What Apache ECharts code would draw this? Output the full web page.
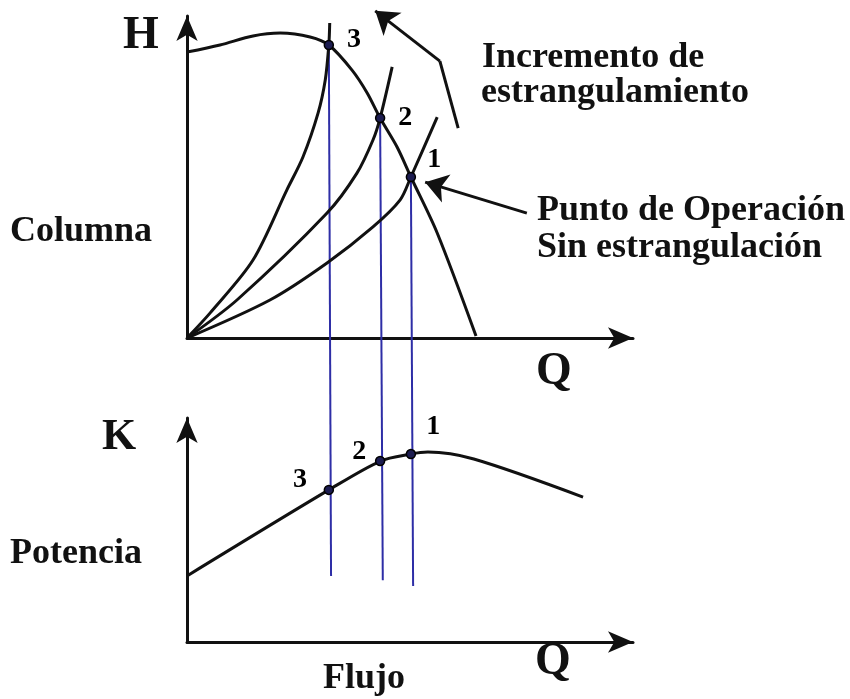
<!DOCTYPE html>
<html>
<head>
<meta charset="utf-8">
<title>Estrangulamiento</title>
<script src="https://cdn.jsdelivr.net/npm/echarts@6/dist/echarts.min.js"></script>
<style>
  html, body { margin: 0; padding: 0; background: #fff; }
  #chart { width: 850px; height: 699px; }
</style>
</head>
<body>
<div id="chart"></div>
<script>
// Pump head curve H(Q)
const pumpCurve = [
  [0, 88.8], [7.4, 91.0], [14.8, 93.8], [20.9, 94.7], [27.6, 93.5],
  [31.8, 91.0], [37.0, 83.2], [40.4, 76.1], [43.3, 68.3], [47.1, 59.3],
  [50.2, 50.0], [56.1, 32.6], [64.8, 0.6]
];
// System curves (1 = no throttling, 3 = most throttled)
const systemCurve1 = [[0, 0], [18.6, 11.8], [31.4, 23.3], [41.7, 34.5], [47.8, 42.9], [50.2, 50.0], [56.1, 68.6]];
const systemCurve2 = [[0, 0], [11.2, 11.8], [31.4, 38.8], [38.1, 51.2], [41.7, 61.5], [43.3, 68.3], [46.0, 84.2]];
const systemCurve3 = [[0, 0], [5.2, 7.8], [14.8, 24.2], [22.4, 46.0], [26.0, 56.2], [29.4, 69.9], [31.0, 80.1], [31.8, 91.0], [32.0, 97.8]];

// Operating points 1, 2, 3
const pointNames = ['1', '2', '3'];
const pointQ = [50.2, 43.3, 31.8];
const pointH = [50.0, 68.3, 91.0];
const pointK = [83.9, 80.8, 67.9];
// Lower end of the projection lines (in head units, below the Q axis)
const dropQ = [50.7, 43.9, 32.3];
const dropH = [-77.0, -75.2, -73.9];

// Power curve K(Q)
const powerCurve = [[0, 29.5], [31.8, 67.9], [43.4, 80.8], [50.2, 83.9], [54.0, 84.8], [64.3, 81.7], [88.8, 64.7]];

// Annotation arrows (head units of the upper panel); the last segment carries the head
const throttleArrow = [[60.8, 65.2], [56.7, 86.0], [42.2, 101.6]];
const operatingArrow = [[76.2, 38.8], [53.4, 48.4]];

const SERIF = "'Liberation Serif', 'DejaVu Serif', 'Times New Roman', serif";
const INK = '#111';
const BLUE = '#2e2ea6';
const MARK = 9;

const chart = echarts.init(document.getElementById('chart'), null, { renderer: 'canvas' });

function axis(gridIndex) {
  return {
    type: 'value', gridIndex: gridIndex, min: 0, max: 100,
    axisLine: { show: true, onZero: false, symbol: ['none', 'arrow'], symbolSize: [16, 25],
                lineStyle: { color: INK, width: 3 } },
    axisTick: { show: false }, axisLabel: { show: false }, splitLine: { show: false }
  };
}

function curve(name, data, xi, yi) {
  return {
    name: name, type: 'line', xAxisIndex: xi, yAxisIndex: yi, data: data,
    smooth: 0.3, showSymbol: false, symbol: 'none', clip: false, z: 3,
    lineStyle: { color: INK, width: 3 }, silent: true
  };
}

function straight(name, data) {
  return {
    name: name, type: 'line', xAxisIndex: 0, yAxisIndex: 0, data: data,
    showSymbol: false, symbol: 'none', clip: false, z: 4, silent: true,
    lineStyle: { color: INK, width: 3 }
  };
}

const dropSeries = pointNames.map((n, i) => ({
  name: 'proyección ' + n, type: 'line', xAxisIndex: 0, yAxisIndex: 0,
  data: [[pointQ[i], pointH[i]], [dropQ[i], dropH[i]]],
  showSymbol: false, symbol: 'none', clip: false, z: 2, silent: true,
  lineStyle: { color: BLUE, width: 2 }
}));

// Label centre relative to the marker centre, in pixels
const topOffsets = [[24, -16], [26, 0], [26, -4]];
const bottomOffsets = [[23, -27], [-20, -8], [-28, -9]];
const markerStyle = { color: '#1c1c50', borderColor: '#000', borderWidth: 1.5, opacity: 1 };

function numberLabel(n, off) {
  return {
    show: true, formatter: n,
    position: [MARK / 2 + off[0], MARK / 2 + off[1]], align: 'center', verticalAlign: 'middle',
    color: '#000', opacity: 1, fontFamily: SERIF, fontWeight: 'bold', fontSize: 28
  };
}

const topPoints = pointNames.map((n, i) => ({
  name: n, value: [pointQ[i], pointH[i]], label: numberLabel(n, topOffsets[i])
}));
const bottomPoints = pointNames.map((n, i) => ({
  name: n, value: [pointQ[i], pointK[i]], label: numberLabel(n, bottomOffsets[i])
}));

function arrowHead(name, from, to) {
  return {
    name: name, type: 'lines', coordinateSystem: 'cartesian2d', xAxisIndex: 0, yAxisIndex: 0,
    clip: false, silent: true, z: 4,
    symbol: ['none', 'arrow'], symbolSize: 22,
    lineStyle: { color: INK, width: 3, opacity: 1, curveness: 0 },
    data: [{ coords: [from, to] }]
  };
}

function text(str, x, y, size, align) {
  return {
    type: 'text', x: x, y: y, silent: true,
    style: { text: str, font: 'bold ' + size + 'px ' + SERIF, fill: INK,
             align: align || 'left', verticalAlign: 'middle',
             textAlign: align || 'left', textVerticalAlign: 'middle' }
  };
}

chart.setOption({
  backgroundColor: '#fff',
  animation: false,
  grid: [
    { left: 187, right: 217, top: 16, bottom: 361 },
    { left: 187, right: 217, top: 418, bottom: 57 }
  ],
  xAxis: [axis(0), axis(1)],
  yAxis: [axis(0), axis(1)],
  series: [
    ...dropSeries,
    curve('bomba', pumpCurve, 0, 0),
    curve('sistema 1', systemCurve1, 0, 0),
    curve('sistema 2', systemCurve2, 0, 0),
    curve('sistema 3', systemCurve3, 0, 0),
    curve('potencia', powerCurve, 1, 1),
    {
      name: 'puntos H', type: 'scatter', xAxisIndex: 0, yAxisIndex: 0, data: topPoints,
      symbol: 'circle', symbolSize: MARK, itemStyle: markerStyle, z: 5, silent: true
    },
    {
      name: 'puntos K', type: 'scatter', xAxisIndex: 1, yAxisIndex: 1, data: bottomPoints,
      symbol: 'circle', symbolSize: MARK, itemStyle: markerStyle, z: 5, silent: true
    },
    straight('incremento', throttleArrow.slice(0, 2)),
    arrowHead('incremento punta', throttleArrow[1], throttleArrow[2]),
    arrowHead('operación', operatingArrow[0], operatingArrow[1])
  ],
  graphic: [
    text('H', 141, 36, 46, 'center'),
    text('Q', 554, 372, 46, 'center'),
    text('Columna', 10, 232, 36),
    text('K', 119, 438, 44, 'center'),
    text('Potencia', 10, 554, 36),
    text('Flujo', 323, 679, 36),
    text('Q', 553, 662, 46, 'center'),
    text('Incremento de', 482, 58, 36),
    text('estrangulamiento', 481, 93, 36),
    text('Punto de Operación', 537, 211, 36),
    text('Sin estrangulación', 537, 248, 36)
  ]
});
</script>
</body>
</html>
